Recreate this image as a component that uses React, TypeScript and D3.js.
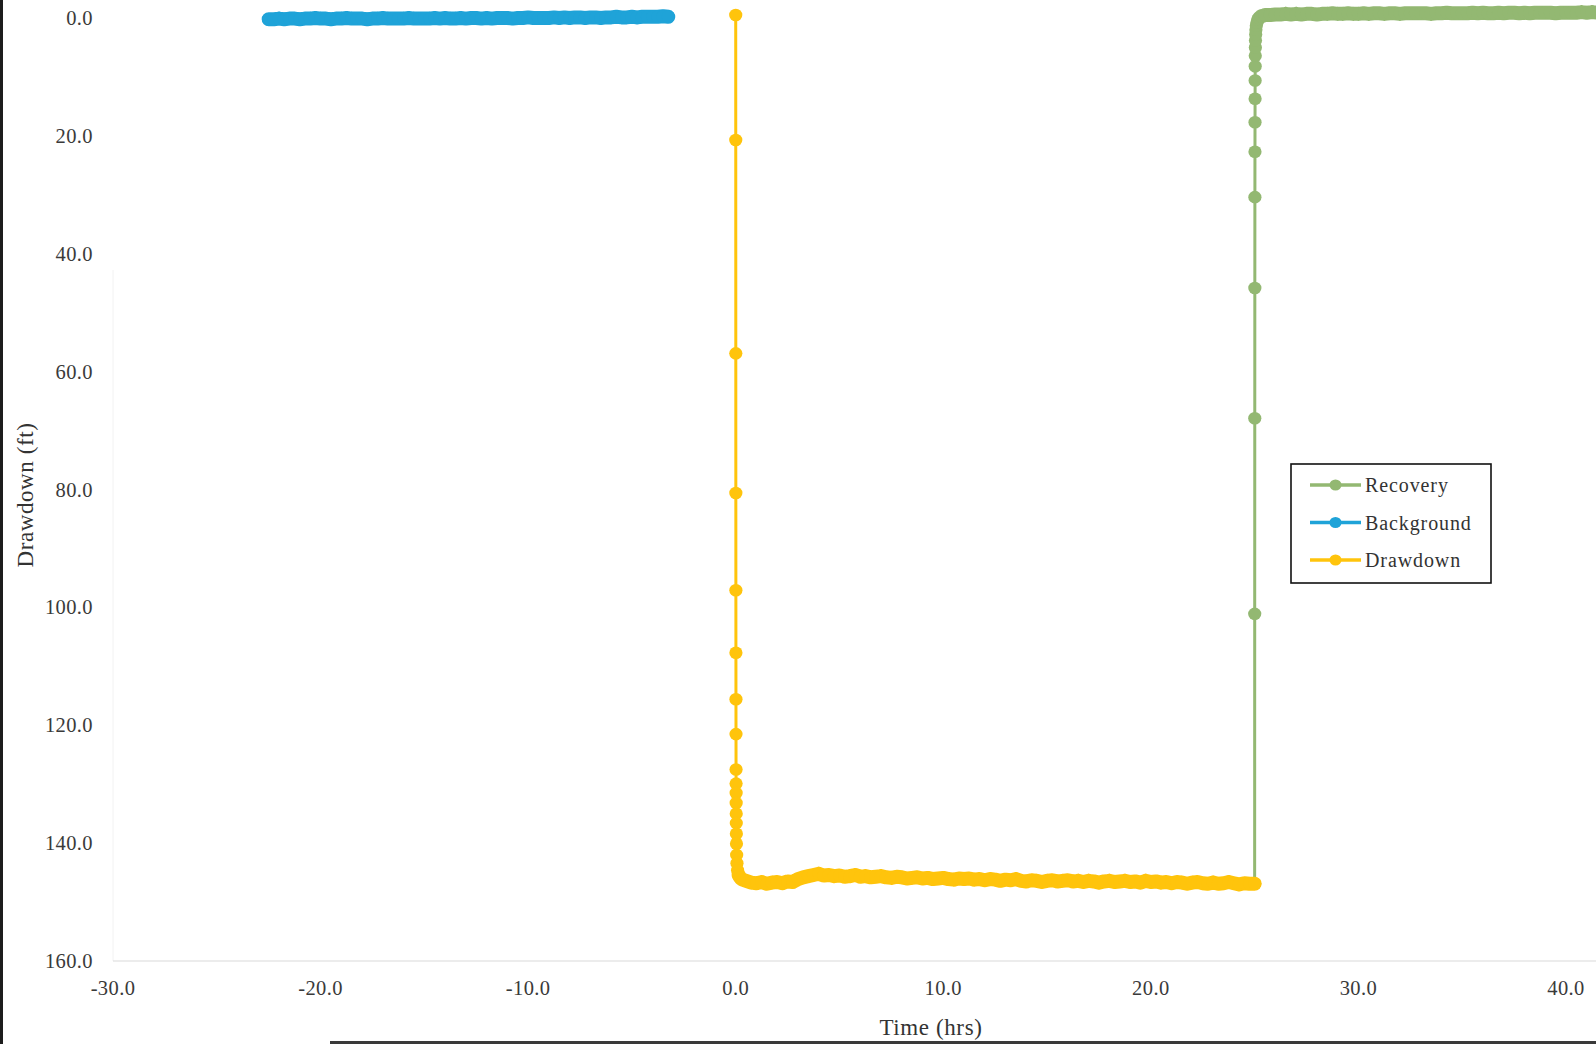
import React from "react";
import * as d3 from "d3";

const xTicks = [-30, -20, -10, 0, 10, 20, 30, 40];
const yTicks = [0, 20, 40, 60, 80, 100, 120, 140, 160];

const backgroundTime = [-22.5, -22.25,
  -22, -21.75, -21.5, -21.25, -21, -20.75, -20.5, -20.25, -20, -19.75, -19.5, -19.25, -19, -18.75, -18.5, -18.25,
  -18, -17.75, -17.5, -17.25, -17, -16.75, -16.5, -16.25, -16, -15.75, -15.5, -15.25, -15, -14.75, -14.5, -14.25,
  -14, -13.75, -13.5, -13.25, -13, -12.75, -12.5, -12.25, -12, -11.75, -11.5, -11.25, -11, -10.75, -10.5, -10.25,
  -10, -9.75, -9.5, -9.25, -9, -8.75, -8.5, -8.25, -8, -7.75, -7.5, -7.25, -7, -6.75, -6.5, -6.25,
  -6, -5.75, -5.5, -5.25, -5, -4.75, -4.5, -4.25, -4, -3.75, -3.5, -3.25];
const backgroundDD = [0.2, 0.2,
  0.1, 0.2, 0.1, 0.1, 0.2, 0.1, 0.1, 0.0, 0.1, 0.1, 0.2, 0.1, 0.1, 0.0, 0.1, 0.1,
  0.1, 0.2, 0.1, 0.1, 0.0, 0.1, 0.1, 0.1, 0.1, 0.0, 0.1, 0.1, 0.1, 0.1, 0.0, 0.1,
  0.0, 0.1, 0.1, 0.0, 0.1, 0.0, 0.0, 0.1, 0.0, 0.1, 0.0, 0.0, 0.0, 0.1, 0.0, 0.0,
  -0.1, 0.0, 0.0, 0.0, 0.0, -0.1, 0.0, -0.1, 0.0, -0.1, -0.1, 0.0, -0.1, -0.1, 0.0, -0.1,
  -0.1, -0.2, -0.1, -0.1, -0.2, -0.1, -0.2, -0.2, -0.2, -0.2, -0.3, -0.2];

const drawdownTime = [0, 0.002, 0.004, 0.006, 0.008, 0.01, 0.012, 0.014, 0.016, 0.018, 0.02, 0.022, 0.025, 0.028, 0.032, 0.036, 0.045, 0.06, 0.09, 0.14, 0.22, 0.33,
  0.5, 0.75,
  1, 1.25, 1.5, 1.75, 2, 2.25, 2.5, 2.75, 3, 3.25, 3.5, 3.75, 4, 4.25, 4.5, 4.75,
  5, 5.25, 5.5, 5.75, 6, 6.25, 6.5, 6.75, 7, 7.25, 7.5, 7.75, 8, 8.25, 8.5, 8.75,
  9, 9.25, 9.5, 9.75, 10, 10.25, 10.5, 10.75, 11, 11.25, 11.5, 11.75, 12, 12.25, 12.5, 12.75,
  13, 13.25, 13.5, 13.75, 14, 14.25, 14.5, 14.75, 15, 15.25, 15.5, 15.75, 16, 16.25, 16.5, 16.75,
  17, 17.25, 17.5, 17.75, 18, 18.25, 18.5, 18.75, 19, 19.25, 19.5, 19.75, 20, 20.25, 20.5, 20.75,
  21, 21.25, 21.5, 21.75, 22, 22.25, 22.5, 22.75, 23, 23.25, 23.5, 23.75, 24, 24.25, 24.5, 24.75,
  25];
const drawdownDD = [-0.5, 20.7, 56.9, 80.6, 97.1, 107.7, 115.6, 121.5, 127.5, 129.9, 131.5, 133.2, 135.0, 136.6, 138.4, 140.1, 142.0, 143.4, 144.6, 145.4, 145.9, 146.2,
  146.4, 146.7,
  146.8, 146.6, 146.9, 146.7, 146.6, 146.8, 146.5, 146.6, 146.1, 145.8, 145.6, 145.4, 145.2, 145.5, 145.4, 145.6,
  145.5, 145.7, 145.6, 145.4, 145.7, 145.6, 145.8, 145.7, 145.6, 145.8, 145.9, 145.7, 145.8, 146.0, 145.9, 145.8,
  146.0, 145.9, 146.1, 146.0, 145.9, 146.1, 146.2, 146.0, 146.1, 146.0, 146.2, 146.1, 146.3, 146.1, 146.2, 146.4,
  146.2, 146.3, 146.1, 146.4, 146.5, 146.3, 146.4, 146.6, 146.4, 146.3, 146.5, 146.4, 146.3, 146.5, 146.4, 146.6,
  146.4, 146.5, 146.7, 146.5, 146.4, 146.6, 146.5, 146.4, 146.6, 146.5, 146.7, 146.4, 146.6, 146.5, 146.7, 146.6,
  146.8, 146.6, 146.7, 146.9, 146.7, 146.6, 146.8, 146.9, 146.7, 146.9, 146.8, 146.6, 146.8, 147.0, 146.8, 146.9,
  146.9];

const recoveryTime = [25.0, 25.003, 25.006, 25.009, 25.012, 25.015, 25.018, 25.021, 25.024, 25.027, 25.03, 25.035, 25.04, 25.05, 25.06, 25.08, 25.11, 25.15, 25.22, 25.32, 25.5,
  25.75,
  26, 26.25, 26.5, 26.75, 27, 27.25, 27.5, 27.75, 28, 28.25, 28.5, 28.75, 29, 29.25, 29.5, 29.75,
  30, 30.25, 30.5, 30.75, 31, 31.25, 31.5, 31.75, 32, 32.25, 32.5, 32.75, 33, 33.25, 33.5, 33.75,
  34, 34.25, 34.5, 34.75, 35, 35.25, 35.5, 35.75, 36, 36.25, 36.5, 36.75, 37, 37.25, 37.5, 37.75,
  38, 38.25, 38.5, 38.75, 39, 39.25, 39.5, 39.75, 40, 40.25, 40.5, 40.75, 41, 41.25, 41.5, 41.75,
  42];
const recoveryDD = [146.9, 101.1, 67.9, 45.8, 30.4, 22.7, 17.7, 13.7, 10.6, 8.2, 6.4, 5.0, 3.8, 2.8, 2.0, 1.3, 0.8, 0.3, 0.0, -0.3, -0.5,
  -0.5,
  -0.6, -0.6, -0.7, -0.6, -0.7, -0.6, -0.7, -0.7, -0.6, -0.7, -0.7, -0.8, -0.7, -0.7, -0.8, -0.7,
  -0.7, -0.8, -0.7, -0.8, -0.8, -0.7, -0.8, -0.8, -0.7, -0.8, -0.8, -0.8, -0.8, -0.8, -0.7, -0.8,
  -0.8, -0.9, -0.8, -0.8, -0.8, -0.8, -0.9, -0.8, -0.9, -0.8, -0.8, -0.9, -0.8, -0.9, -0.9, -0.8,
  -0.9, -0.8, -0.9, -0.9, -0.9, -0.9, -0.8, -0.9, -0.9, -0.9, -0.9, -1.0, -0.9, -1.0, -0.9, -0.9,
  -1.0];

const seriesNames = ["Recovery", "Background", "Drawdown"];
const seriesColors = ["#93b872", "#1fa3d8", "#ffc40c"];

const W = 1596;
const H = 1044;

export default function App() {
  const x = d3.scaleLinear().domain([-30, 40]).range([113, 1566]);
  const y = d3.scaleLinear().domain([0, 160]).range([18, 961]);
  const line = d3
    .line<[number, number]>()
    .x((d) => x(d[0]))
    .y((d) => y(d[1]));
  const fmt = (v: number) => v.toFixed(1);

  const series = [
    { name: seriesNames[0], color: seriesColors[0], pts: recoveryTime.map((t, i) => [t, recoveryDD[i]] as [number, number]) },
    { name: seriesNames[1], color: seriesColors[1], pts: backgroundTime.map((t, i) => [t, backgroundDD[i]] as [number, number]) },
    { name: seriesNames[2], color: seriesColors[2], pts: drawdownTime.map((t, i) => [t, drawdownDD[i]] as [number, number]) },
  ];

  // where the markers are so dense that they merge into a solid band
  const bandPath = (pts: [number, number][]) => {
    let d = "";
    for (let i = 1; i < pts.length; i++) {
      const x0 = x(pts[i - 1][0]), y0 = y(pts[i - 1][1]);
      const x1 = x(pts[i][0]), y1 = y(pts[i][1]);
      if (Math.abs(y1 - y0) < 5 && Math.abs(x1 - x0) > 1.5) {
        d += `M${x0},${y0}L${x1},${y1}`;
      }
    }
    return d;
  };

  const font = "'Liberation Serif', 'Times New Roman', serif";

  return (
    <svg
      width={W}
      height={H}
      style={{ position: "absolute", left: 0, top: 0, background: "#ffffff" }}
    >
      <rect x={0} y={0} width={W} height={H} fill="#ffffff" />
      {/* axes */}
      <line x1={113} x2={113} y1={270} y2={y(160)} stroke="#f2f2f2" strokeWidth={1} />
      <line x1={113} x2={W} y1={y(160)} y2={y(160)} stroke="#d9d9d9" strokeWidth={1.2} />

      {/* y tick labels */}
      {yTicks.map((t) => (
        <text
          key={"y" + t}
          x={93}
          y={y(t)}
          textAnchor="end"
          dominantBaseline="central"
          fontFamily={font}
          fontSize={20.5}
          letterSpacing={0.4}
          fill="#3a3a3a"
        >
          {fmt(t)}
        </text>
      ))}
      {/* x tick labels */}
      {xTicks.map((t) => (
        <text
          key={"x" + t}
          x={x(t)}
          y={988}
          textAnchor="middle"
          dominantBaseline="central"
          fontFamily={font}
          fontSize={20.5}
          letterSpacing={0.4}
          fill="#3a3a3a"
        >
          {fmt(t)}
        </text>
      ))}

      {/* axis titles */}
      <text x={931} y={1027} textAnchor="middle" dominantBaseline="central" fontFamily={font} fontSize={23} letterSpacing={0.6} fill="#333">
        Time (hrs)
      </text>
      <text
        transform={`translate(25,495) rotate(-90)`}
        textAnchor="middle"
        dominantBaseline="central"
        fontFamily={font}
        fontSize={23}
        letterSpacing={0.6}
        fill="#333"
      >
        Drawdown (ft)
      </text>

      {/* series */}
      {series.map((s) => (
        <g key={s.name}>
          <path d={line(s.pts) || ""} fill="none" stroke={s.color} strokeWidth={3} strokeLinejoin="round" />
          <path d={bandPath(s.pts)} fill="none" stroke={s.color} strokeWidth={14} strokeLinecap="round" />
          {s.pts.map((p, i) => (
            <ellipse key={i} cx={x(p[0])} cy={y(p[1])} rx={6.6} ry={6.3} fill={s.color} />
          ))}
        </g>
      ))}

      {/* legend */}
      <rect x={1291} y={464} width={200} height={119} fill="#ffffff" stroke="#111" strokeWidth={1.6} />
      {series.map((s, i) => {
        const cy = 485 + i * 37.5;
        return (
          <g key={"lg" + s.name}>
            <line x1={1310} x2={1361} y1={cy} y2={cy} stroke={s.color} strokeWidth={3.5} />
            <ellipse cx={1335.5} cy={cy} rx={6} ry={5.5} fill={s.color} />
            <text x={1365} y={cy} dominantBaseline="central" fontFamily={font} fontSize={20} letterSpacing={0.9} fill="#333">
              {s.name}
            </text>
          </g>
        );
      })}

      {/* scan edges */}
      <rect x={0} y={0} width={3} height={H} fill="#1c1c1c" />
      <rect x={330} y={1041} width={W - 330} height={3} fill="#3a3a3a" />
    </svg>
  );
}
